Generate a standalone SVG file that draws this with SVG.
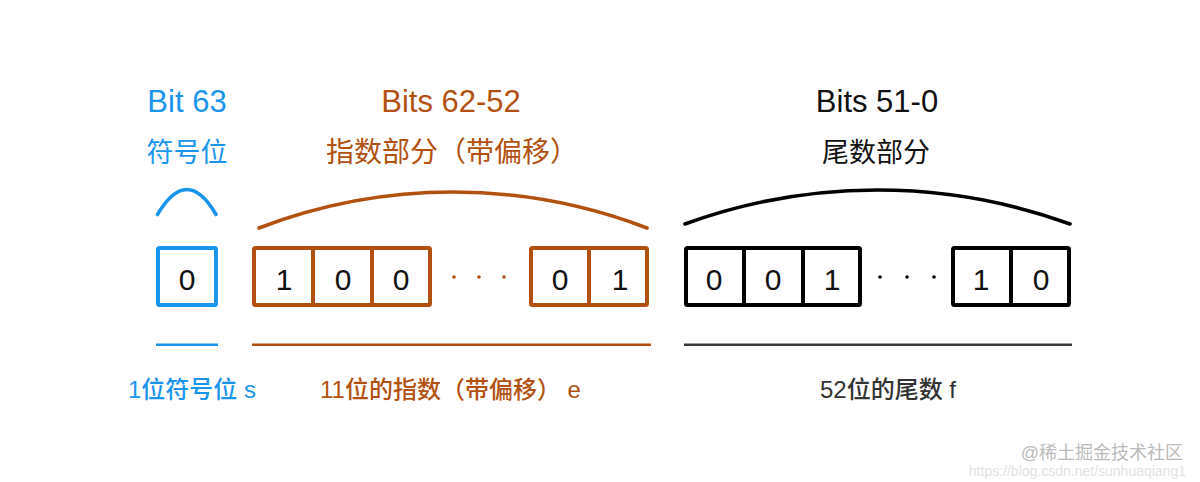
<svg xmlns="http://www.w3.org/2000/svg" width="1200" height="482" viewBox="0 0 1200 482">
<style>
  text { font-family: "Liberation Sans", "Noto Sans CJK SC", sans-serif; }
  .title { font-size: 31px; text-anchor: middle; }
  .sub { font-size: 27px; text-anchor: middle; }
  .digit { font-size: 30px; text-anchor: middle; fill: #111; }
  .bottom { font-size: 24px; font-weight: 500; }
  .box { fill: #fff; stroke-width: 4; stroke-linejoin: round; }
  .div { stroke-width: 4; }
  .arc { fill: none; stroke-width: 3.6; stroke-linecap: round; }
  .rule { stroke-width: 2.6; }
  .blue { stroke: #1a95ee; }
  .orange { stroke: #b2510f; }
  .black { stroke: #000; }
  .tblue { fill: #1a95ee; }
  .torange { fill: #b2510f; }
  .tblack { fill: #111; }
  .dotO { fill: #b2510f; }
  .dotK { fill: #000; }
</style>
<rect width="1200" height="482" fill="#fff"/>

<g id="sign-field">
  <text class="title tblue" x="187" y="112">Bit 63</text>
  <text class="sub tblue" x="187" y="162">符号位</text>
  <rect class="box blue" x="158" y="248" width="58" height="57" rx="1.5"/>
  <text class="digit" x="187" y="290">0</text>
  <text class="bottom tblue" x="128" y="398">1位符号位 s</text>
</g>

<g id="exponent-field">
  <text class="title torange" x="451" y="112">Bits 62-52</text>
  <text class="torange" x="326" y="162" style="font-size:28px">指数部分（带偏移）</text>
  <rect class="box orange" x="254" y="248" width="176" height="57" rx="1.5"/>
  <line class="div orange" x1="313" y1="248" x2="313" y2="305"/>
  <line class="div orange" x1="372" y1="248" x2="372" y2="305"/>
  <text class="digit" x="284" y="290">1</text>
  <text class="digit" x="343" y="290">0</text>
  <text class="digit" x="401" y="290">0</text>
  <circle class="dotO" cx="454" cy="277" r="1.8"/>
  <circle class="dotO" cx="479" cy="277" r="1.8"/>
  <circle class="dotO" cx="504" cy="277" r="1.8"/>
  <rect class="box orange" x="531" y="248" width="116" height="57" rx="1.5"/>
  <line class="div orange" x1="589" y1="248" x2="589" y2="305"/>
  <text class="digit" x="560" y="290">0</text>
  <text class="digit" x="620" y="290">1</text>
  <text class="bottom torange" x="320" y="398">11位的指数（带偏移） e</text>
</g>

<g id="mantissa-field">
  <text class="title tblack" x="877" y="112">Bits 51-0</text>
  <text class="sub tblack" x="876" y="162">尾数部分</text>
  <rect class="box black" x="686" y="248" width="174" height="57" rx="1.5"/>
  <line class="div black" x1="744" y1="248" x2="744" y2="305"/>
  <line class="div black" x1="803" y1="248" x2="803" y2="305"/>
  <text class="digit" x="714" y="290">0</text>
  <text class="digit" x="773" y="290">0</text>
  <text class="digit" x="832" y="290">1</text>
  <circle class="dotK" cx="880" cy="277" r="1.8"/>
  <circle class="dotK" cx="907" cy="277" r="1.8"/>
  <circle class="dotK" cx="934" cy="277" r="1.8"/>
  <rect class="box black" x="953" y="248" width="116" height="57" rx="1.5"/>
  <line class="div black" x1="1011" y1="248" x2="1011" y2="305"/>
  <text class="digit" x="981" y="290">1</text>
  <text class="digit" x="1041" y="290">0</text>
  <text class="bottom" x="820" y="398" fill="#333">52位的尾数 f</text>
</g>

<g id="connectors">
  <path class="arc blue" d="M157.5,214.5 Q187,164.5 216,214.5"/>
  <path class="arc orange" d="M259,228 A541,541 0 0 1 647,228"/>
  <path class="arc black" d="M685,224 A562,562 0 0 1 1070,224"/>
  <line class="rule blue" x1="156" y1="344.7" x2="218" y2="344.7"/>
  <line class="rule orange" x1="252" y1="344.7" x2="651" y2="344.7"/>
  <line class="rule" stroke="#3a3a3a" x1="684" y1="344.7" x2="1072" y2="344.7"/>
</g>

<g id="watermark">
  <text x="1183" y="459" style="font-size:18px;text-anchor:end" fill="#a8a8a8" fill-opacity="0.8">@稀土掘金技术社区</text>
  <text x="1186" y="476" style="font-size:14px;text-anchor:end" fill="#e2e2e2">https://blog.csdn.net/sunhuaqiang1</text>
</g>
</svg>
